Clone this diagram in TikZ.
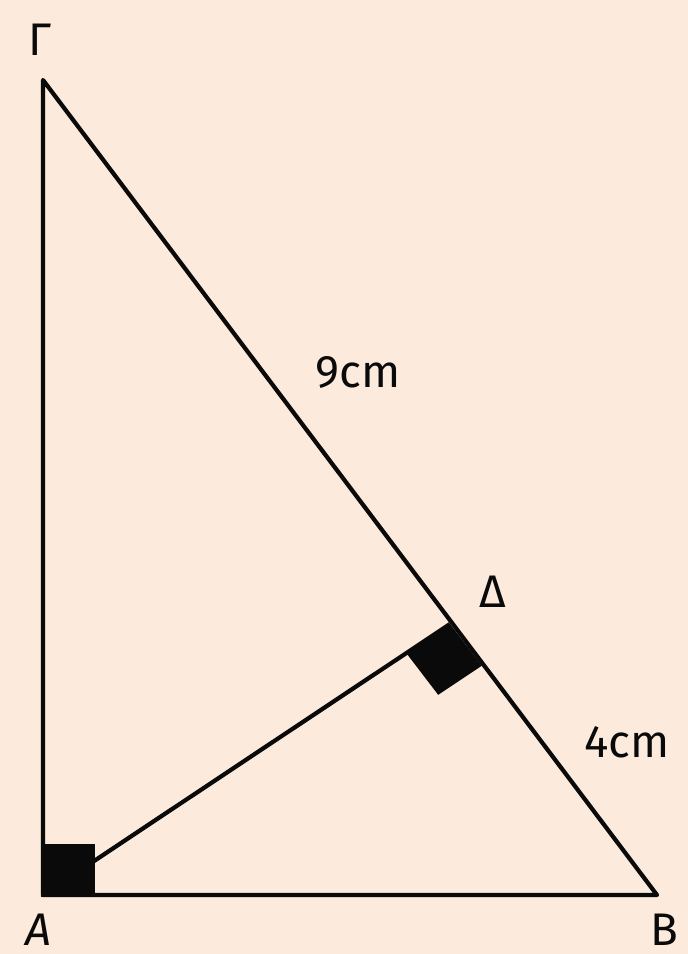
\documentclass[tikz,border=0pt]{standalone}
\usepackage{fontspec}
\setmainfont{Fira Sans}
\usetikzlibrary{calc}
\definecolor{Paper}{HTML}{FCEADC}
\definecolor{Ink}{HTML}{0A0A0A}
\tikzset{
  side/.style={draw=Ink, line width=2.4pt, line join=round},
  vlabel/.style={text=Ink, inner sep=0pt, font=\fontsize{26}{30}\selectfont},
  rightmark/.style={fill=Ink}
}
\begin{document}
\begin{tikzpicture}[x=0.02cm, y=-0.02cm]
  % page and background
  \fill[Paper] (0,0) rectangle (688,954);
  \useasboundingbox (0,0) rectangle (688,954);

  % vertices
  \coordinate (A) at (43,895);
  \coordinate (B) at (657,895);
  \coordinate (G) at (43,80);
  \coordinate (D) at (450,624);

  % right angle at A
  \fill[rightmark] (41,844) rectangle (95,897);

  % right angle at D
  \coordinate (DA) at ($(D)!1.05cm!(A)$);
  \coordinate (DB) at ($(D)!1.05cm!(B)$);
  \fill[rightmark] (D) -- (DA) -- ($(DA)+(DB)-(D)$) -- (DB) -- cycle;

  % triangle and altitude
  \draw[side] (G) -- (A) -- (B) -- cycle;
  \draw[side] (A) -- (D);

  % labels
  \node[vlabel] (lG) at (40,40) {Γ};
  \node[vlabel] (lD) at (493,592) {Δ};
  \node[vlabel] (lA) at (38,930) {\textit{A}};
  \node[vlabel] (lB) at (664,930) {B};
  \node[vlabel] (l9) at (358,372) {9cm};
  \node[vlabel] (l4) at (627,742) {4cm};
\end{tikzpicture}
\end{document}
